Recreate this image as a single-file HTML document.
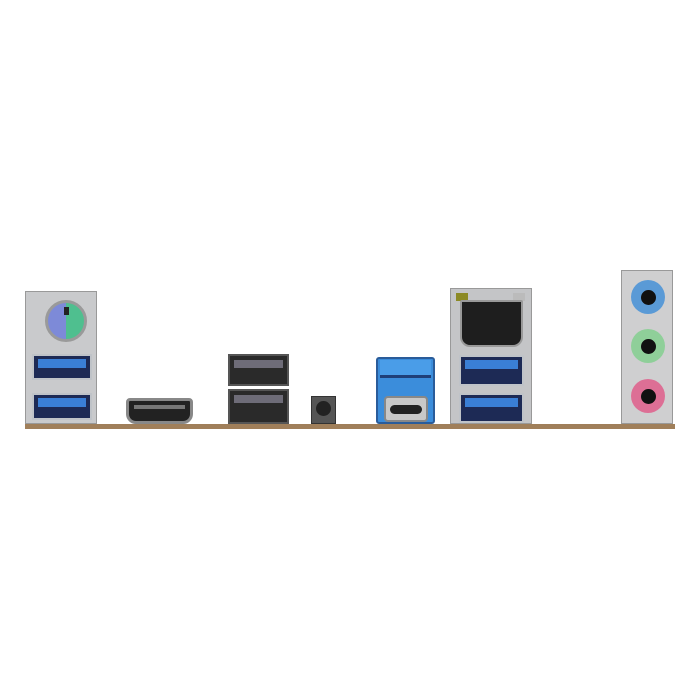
<!DOCTYPE html>
<html><head><style>
body{margin:0;width:700px;height:700px;background:#fff;position:relative;overflow:hidden;font-family:"Liberation Sans",sans-serif}
div{position:absolute;box-sizing:border-box}
.usb{background:#1d2a55;border:2px solid #bfc3c8}
.usb i{position:absolute;left:4px;right:4px;top:3px;height:9px;background:#3a7fd6;display:block}
.bk{background:#2a2a2a;border:2px solid #555}
.bk i{position:absolute;left:4px;right:4px;top:4px;height:8px;background:#6e6c78;display:block}
.jack{border-radius:50%}
.jack b{position:absolute;left:50%;top:50%;width:15px;height:15px;margin:-7.5px;border-radius:50%;background:#111;display:block}
</style></head><body>
<!-- base bar -->
<div style="left:25px;top:424px;width:650px;height:5px;background:#a07f5a"></div>
<!-- left block -->
<div style="left:25px;top:291px;width:72px;height:133px;background:#c9cacc;border:1px solid #999"></div>
<div style="left:45px;top:300px;width:42px;height:42px;border-radius:50%;background:linear-gradient(90deg,#7d8ad8 50%,#4fbf8f 50%);border:3px solid #9a9a9a"></div>
<div style="left:64px;top:307px;width:5px;height:8px;background:#222"></div>
<div class="usb" style="left:32px;top:354px;width:60px;height:26px"><i></i></div>
<div class="usb" style="left:32px;top:393px;width:60px;height:27px"><i></i></div>
<!-- HDMI -->
<div style="left:126px;top:398px;width:67px;height:26px;background:#222;border:3px solid #888;border-radius:4px 4px 10px 10px"></div>
<div style="left:134px;top:405px;width:51px;height:4px;background:#777"></div>
<!-- stacked USB2 -->
<div class="bk" style="left:228px;top:354px;width:61px;height:32px"><i></i></div>
<div class="bk" style="left:228px;top:389px;width:61px;height:35px"><i></i></div>
<!-- button -->
<div style="left:311px;top:396px;width:25px;height:28px;background:#555;border:1px solid #333"></div>
<div style="left:316px;top:401px;width:15px;height:15px;border-radius:50%;background:#222"></div>
<!-- USB3 + C -->
<div style="left:376px;top:357px;width:59px;height:67px;background:#3b8ddb;border:2px solid #2a5c9a;border-radius:3px"></div>
<div style="left:380px;top:360px;width:51px;height:18px;background:#4a9de8;border-bottom:3px solid #1f3f78"></div>
<div style="left:384px;top:396px;width:44px;height:26px;background:#c8c8c8;border:2px solid #888;border-radius:4px"></div>
<div style="left:390px;top:405px;width:32px;height:9px;background:#222;border-radius:5px"></div>
<!-- LAN block -->
<div style="left:450px;top:288px;width:82px;height:136px;background:#c4c5c7;border:1px solid #999"></div>
<div style="left:456px;top:293px;width:12px;height:8px;background:#8c8a25"></div>
<div style="left:513px;top:293px;width:12px;height:8px;background:#bbb"></div>
<div style="left:460px;top:300px;width:63px;height:47px;background:#1e1e1e;border-radius:2px 2px 10px 10px;border:2px solid #999"></div>
<div class="usb" style="left:459px;top:355px;width:65px;height:31px"><i></i></div>
<div class="usb" style="left:459px;top:393px;width:65px;height:30px"><i></i></div>
<!-- audio -->
<div style="left:621px;top:270px;width:52px;height:154px;background:#cfcfd0;border:1px solid #999"></div>
<div class="jack" style="left:631px;top:280px;width:34px;height:34px;background:#5a9ad6"><b></b></div>
<div class="jack" style="left:631px;top:329px;width:34px;height:34px;background:#8fcf99"><b></b></div>
<div class="jack" style="left:631px;top:379px;width:34px;height:34px;background:#dd6f95"><b></b></div>
</body></html>
